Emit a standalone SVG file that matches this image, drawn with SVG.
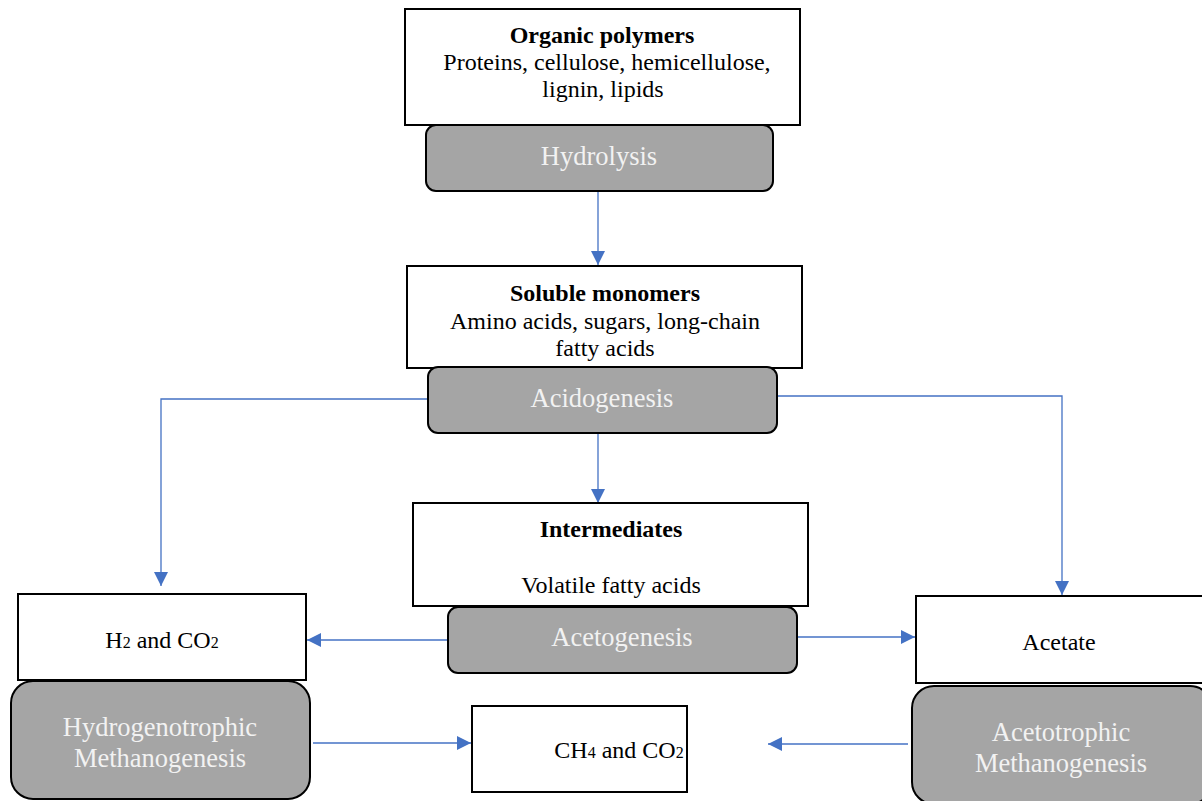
<svg xmlns="http://www.w3.org/2000/svg" width="1202" height="801" viewBox="0 0 1202 801">
<style>
.box{fill:#fff;stroke:#000;stroke-width:2}
.proc{fill:#a5a5a5;stroke:#000;stroke-width:2}
.t{font-family:"Liberation Serif","Times New Roman",serif;font-size:24px;fill:#000;text-anchor:middle}
.b{font-weight:bold}
.w{font-family:"Liberation Serif","Times New Roman",serif;font-size:26.5px;fill:#f2f2f2;text-anchor:middle}
.c{fill:none;stroke:#4472c4;stroke-width:1.3}
.sub{font-size:16px}
</style>
<defs>
<marker id="ah2" viewBox="0 0 10 10" refX="10" refY="5" markerWidth="14" markerHeight="14" markerUnits="userSpaceOnUse" orient="auto">
<path d="M0,0 L10,5 L0,10 z" fill="#4472c4"/>
</marker>
</defs>
<g id="connectors">
<path class="c" d="M598,191 V265" marker-end="url(#ah2)"/>
<path class="c" d="M428,399 H161 V586" marker-end="url(#ah2)"/>
<path class="c" d="M777,396 H1062 V595" marker-end="url(#ah2)"/>
<path class="c" d="M598,433 V503" marker-end="url(#ah2)"/>
<path class="c" d="M448,640 H307" marker-end="url(#ah2)"/>
<path class="c" d="M797,637 H915" marker-end="url(#ah2)"/>
<path class="c" d="M313,743 H471" marker-end="url(#ah2)"/>
<path class="c" d="M908,744 H768" marker-end="url(#ah2)"/>
</g>
<g id="organic">
<rect class="box" x="405" y="9" width="395" height="116"/>
<text class="t b" x="602" y="43">Organic polymers</text>
<text class="t" x="607" y="70">Proteins, cellulose, hemicellulose,</text>
<text class="t" x="603" y="97">lignin, lipids</text>
</g>
<g id="hydrolysis">
<rect class="proc" x="426" y="125" width="347" height="66" rx="10"/>
<text class="w" x="599" y="165">Hydrolysis</text>
</g>
<g id="soluble">
<rect class="box" x="407" y="266" width="395" height="102"/>
<text class="t b" x="605" y="301">Soluble monomers</text>
<text class="t" x="605" y="329">Amino acids, sugars, long-chain</text>
<text class="t" x="605" y="356">fatty acids</text>
</g>
<g id="acidogenesis">
<rect class="proc" x="428" y="367" width="349" height="66" rx="10"/>
<text class="w" x="602" y="407">Acidogenesis</text>
</g>
<g id="intermediates">
<rect class="box" x="413" y="503" width="395" height="103"/>
<text class="t b" x="611" y="537">Intermediates</text>
<text class="t" x="611" y="593">Volatile fatty acids</text>
</g>
<g id="acetogenesis">
<rect class="proc" x="448" y="607" width="349" height="66" rx="10"/>
<text class="w" x="622" y="646">Acetogenesis</text>
</g>
<g id="h2co2">
<rect class="box" x="18" y="594" width="288" height="86"/>
<text class="t" x="162" y="648">H<tspan class="sub">2</tspan> and CO<tspan class="sub">2</tspan></text>
</g>
<g id="hydrogenotrophic">
<rect class="proc" x="11" y="681" width="299" height="118" rx="22"/>
<text class="w" x="160" y="736">Hydrogenotrophic</text>
<text class="w" x="160" y="767">Methanogenesis</text>
</g>
<g id="acetate">
<rect class="box" x="916" y="596" width="290" height="87"/>
<text class="t" x="1059" y="650">Acetate</text>
</g>
<g id="acetotrophic">
<rect class="proc" x="912" y="686" width="300" height="118" rx="22"/>
<text class="w" x="1061" y="741">Acetotrophic</text>
<text class="w" x="1061" y="772">Methanogenesis</text>
</g>
<g id="ch4co2">
<rect class="box" x="472" y="706" width="215" height="86"/>
<text class="t" x="619" y="758">CH<tspan class="sub">4</tspan> and CO<tspan class="sub">2</tspan></text>
</g>
</svg>
